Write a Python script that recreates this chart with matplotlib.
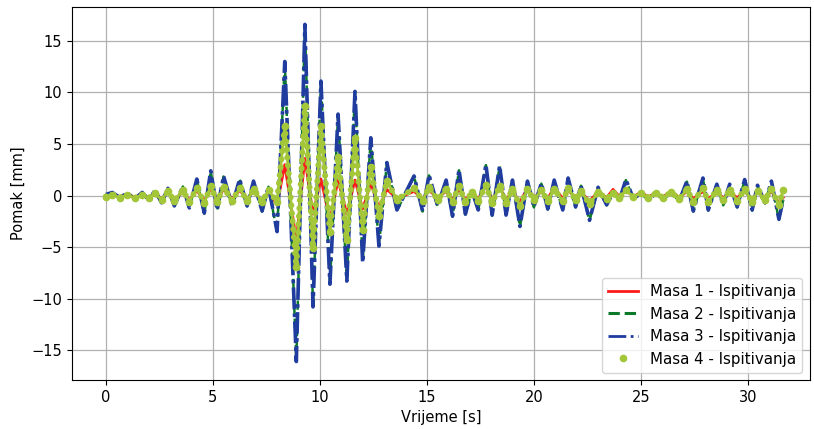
import matplotlib
matplotlib.use("Agg")
import matplotlib.pyplot as plt
from matplotlib.lines import Line2D

# Turning points (time in s), shared by all series
t_ext = [0.0, 0.3, 0.65, 1.0, 1.35, 1.7, 2.0, 2.3, 2.6, 2.9,
         3.2, 3.6, 3.9, 4.25, 4.6, 4.9, 5.2, 5.5, 5.9, 6.25,
         6.6, 6.9, 7.3, 7.6, 8.0, 8.36, 8.9, 9.3, 9.68, 10.05,
         10.47, 10.85, 11.26, 11.64, 12.0, 12.38, 12.76, 13.13, 13.6, 14.4,
         14.8, 15.1, 15.5, 15.9, 16.2, 16.5, 16.8, 17.1, 17.4, 17.76,
         18.05, 18.4, 18.7, 19.0, 19.35, 19.7, 20.0, 20.35, 20.65, 20.95,
         21.35, 21.6, 21.95, 22.2, 22.6, 23.0, 23.4, 23.7, 24.0, 24.3,
         24.65, 25.0, 25.35, 25.7, 26.05, 26.4, 26.8, 27.15, 27.45, 27.9,
         28.15, 28.55, 28.85, 29.15, 29.5, 29.85, 30.2, 30.45, 30.8, 31.1,
         31.45, 31.65]

masa1 = [0.0, 0.1, -0.1, 0.1, -0.15, 0.1, -0.2, 0.2, -0.3, 0.3,
         -0.4, 0.35, -0.45, 0.5, -0.5, 0.7, -0.4, 0.6, -0.3, 0.5,
         -0.3, 0.4, -0.5, 0.4, -0.9, 3.0, -4.3, 3.6, -1.8, 1.6,
         -2.4, 1.5, -1.8, 1.5, -1.3, 1.2, -1.2, 0.6, -0.3, 0.4,
         -0.3, 0.5, -0.2, 0.4, -0.4, 0.6, -0.4, 0.2, -0.3, 0.9,
         -0.4, 0.8, -0.4, 0.4, -0.6, 0.7, -0.2, 0.4, -0.3, 0.8,
         -0.3, 0.5, -0.2, 0.3, -0.5, 0.3, -0.2, 0.6, -0.1, 0.5,
         -0.1, 0.3, -0.1, 0.2, -0.1, 0.4, -0.2, 0.4, -0.3, 0.4,
         -0.3, 0.3, -0.2, 0.3, -0.2, 0.4, -0.3, 0.3, -0.2, 0.4,
         -0.7, -0.2]

masa2 = [0.1, 0.28, -0.22, 0.22, -0.32, 0.28, -0.42, 0.48, -0.72, 0.68,
         -1.02, 0.88, -1.22, 1.55, -1.75, 2.35, -1.45, 1.85, -1.05, 1.55,
         -1.05, 1.35, -1.55, 0.85, -3.6, 12.9, -16.0, 16.5, -10.7, 11.0,
         -8.5, 7.8, -8.2, 10.0, -6.4, 5.5, -4.8, 3.1, -1.45, 1.85,
         -1.55, 1.95, -1.05, 1.45, -2.05, 2.45, -1.85, 0.45, -1.45, 2.95,
         -1.95, 2.85, -1.95, 1.45, -3.05, 1.35, -1.15, 1.15, -1.35, 1.45,
         -1.45, 1.65, -1.15, 0.95, -2.45, 0.75, -0.95, 0.28, -0.45, 1.5,
         -0.35, 0.18, -0.42, 0.18, -0.32, 0.28, -0.52, 1.35, -1.55, 1.65,
         -1.45, 1.05, -0.95, 1.05, -1.15, 1.5, -1.45, 0.95, -0.75, 1.35,
         -2.35, -0.45]

masa3 = [0.1, 0.3, -0.2, 0.25, -0.3, 0.3, -0.4, 0.5, -0.7, 0.7,
         -1.0, 0.9, -1.2, 1.6, -1.7, 2.4, -1.4, 1.9, -1.0, 1.6,
         -1.0, 1.4, -1.5, 0.9, -3.5, 13.0, -16.1, 16.6, -10.8, 11.1,
         -8.6, 7.9, -8.3, 10.1, -6.5, 5.6, -4.9, 3.2, -1.4, 1.9,
         -1.5, 2.0, -1.0, 1.5, -2.0, 2.5, -1.8, 0.5, -1.4, 3.0,
         -1.9, 2.9, -1.9, 1.5, -3.0, 1.4, -1.1, 1.2, -1.3, 1.5,
         -1.4, 1.7, -1.1, 1.0, -2.4, 0.8, -0.9, 0.3, -0.4, 1.55,
         -0.3, 0.2, -0.4, 0.2, -0.3, 0.3, -0.5, 1.4, -1.5, 1.7,
         -1.4, 1.1, -0.9, 1.1, -1.1, 1.55, -1.4, 1.0, -0.7, 1.4,
         -2.3, -0.4]

masa4 = [-0.1, 0.1, -0.2, 0.05, -0.25, 0.1, -0.25, 0.2, -0.4, 0.4,
         -0.5, 0.5, -0.6, 0.7, -0.7, 0.9, -0.6, 0.8, -0.5, 0.7,
         -0.5, 0.6, -0.6, 0.5, -0.6, 6.7, -6.9, 8.7, -5.1, 6.7,
         -3.5, 3.7, -4.3, 5.6, -3.3, 2.8, -2.0, 1.4, -0.4, 0.7,
         -0.5, 0.8, -0.4, 0.6, -0.6, 0.9, -0.6, 0.3, -0.5, 1.0,
         -0.7, 0.9, -0.7, 0.6, -1.0, 0.6, -0.4, 0.5, -0.5, 0.6,
         -0.5, 0.7, -0.4, 0.4, -0.8, 0.3, -0.3, 0.2, -0.2, 0.5,
         -0.1, 0.2, -0.2, 0.2, -0.2, 0.3, -0.3, 0.6, -0.6, 0.7,
         -0.6, 0.5, -0.4, 0.5, -0.5, 0.6, -0.6, 0.4, -0.4, 0.6,
         -0.9, 0.5]

labels = ["Masa 1 - Ispitivanja", "Masa 2 - Ispitivanja",
          "Masa 3 - Ispitivanja", "Masa 4 - Ispitivanja"]
xticks = [0, 5, 10, 15, 20, 25, 30]
yticks = [-15, -10, -5, 0, 5, 10, 15]

c_red = "#ff1a1a"
c_green = "#0a7a2a"
c_blue = "#1f3c9e"
c_yel = "#a4c639"

fig = plt.figure(figsize=(8.14, 4.29), dpi=100)
ax = fig.add_axes([0.088, 0.114, 0.907, 0.870])

ax.plot(t_ext, masa1, color=c_red, lw=2.0, solid_joinstyle="round")
ax.plot(t_ext, masa2, color=c_green, lw=1.8, ls="--")
ax.plot(t_ext, masa3, color=c_blue, lw=2.6, ls=(0, (6, 1.2, 1, 1.2)))
# yellow-green trace: thin core plus round dots along the path
ax.plot(t_ext, masa4, color=c_yel, lw=2.0, solid_joinstyle="round")
ax.plot(t_ext, masa4, color=c_yel, lw=4.4, ls=(0, (0.01, 1.3)),
        dash_capstyle="round")
ax.plot(t_ext, masa4, color=c_yel, ls="none", marker="o", ms=4.5)

ax.set_xlim(-1.6, 32.9)
ax.set_ylim(-17.9, 18.3)
ax.set_xticks(xticks)
ax.set_yticks(yticks)
ax.grid(True, color="#b0b0b0", lw=0.9)
ax.set_axisbelow(True)
ax.set_xlabel("Vrijeme [s]", fontsize=10.5)
ax.set_ylabel("Pomak [mm]", fontsize=10.5)
ax.tick_params(labelsize=10.5)

handles = [
    Line2D([], [], color=c_red, lw=2.0),
    Line2D([], [], color=c_green, lw=2.2, ls="--"),
    Line2D([], [], color=c_blue, lw=2.0, ls="-."),
    Line2D([], [], color=c_yel, ls="none", marker="o", ms=4.5),
]
ax.legend(handles, labels, loc="lower right", fontsize=10.8, framealpha=0.8)

fig.savefig("out.png", dpi=100)
